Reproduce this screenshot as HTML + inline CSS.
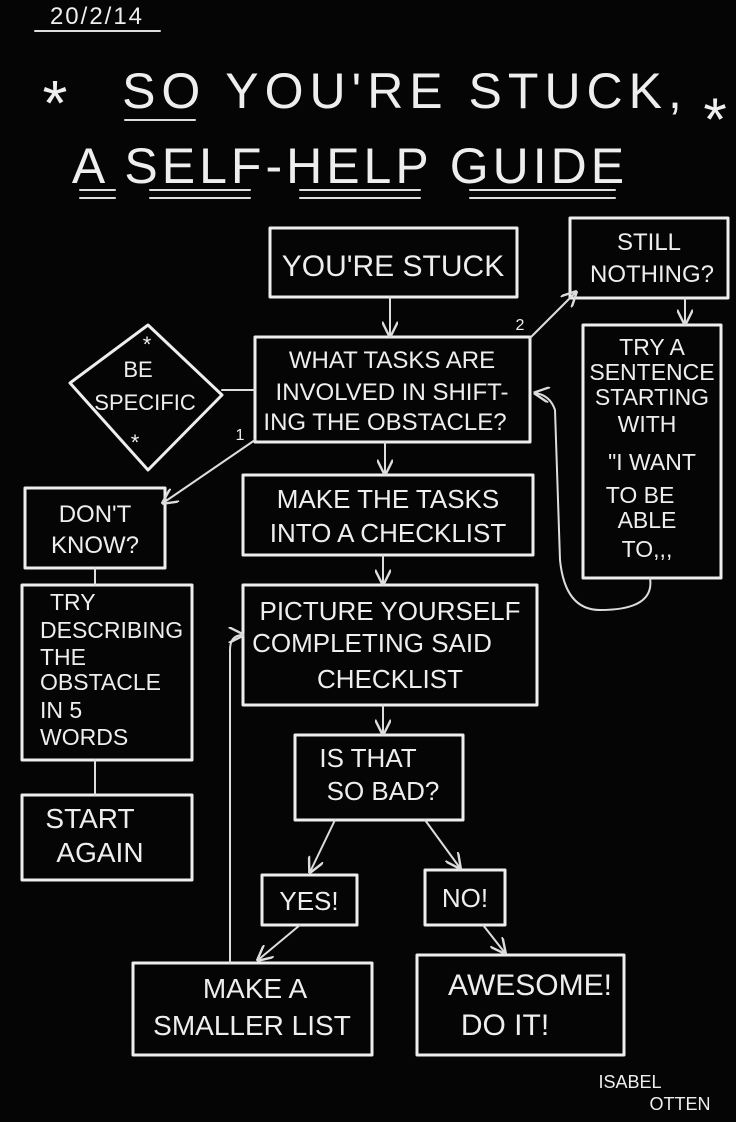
<!DOCTYPE html>
<html><head><meta charset="utf-8"><style>
html,body{margin:0;padding:0;background:#050505;}
svg{display:block}
text{font-family:"Liberation Sans Narrow","Liberation Sans",sans-serif;fill:#eee;text-anchor:middle}
.b{fill:none;stroke:#eee;stroke-width:3;stroke-linejoin:round;stroke-linecap:round}
.l{fill:none;stroke:#ddd;stroke-width:2;stroke-linecap:round}
</style></head><body>
<svg width="736" height="1122" viewBox="0 0 736 1122" xmlns="http://www.w3.org/2000/svg">
<rect width="736" height="1122" fill="#050505"/>
<defs><marker id="a" viewBox="0 0 10 10" refX="9" refY="5" markerWidth="8" markerHeight="8" orient="auto"><path d="M0,0 L10,5 L0,10" fill="none" stroke="#ddd" stroke-width="1.5"/></marker></defs>

<!-- header -->
<text x="97" y="24" font-size="24" style="letter-spacing:2px">20/2/14</text>
<line x1="35" y1="31" x2="160" y2="31" class="l"/>
<text x="55" y="125" font-size="64">*</text>
<text x="405" y="108" font-size="50" style="letter-spacing:6px">SO YOU'RE STUCK,</text>
<text x="715" y="140" font-size="60">*</text>
<text x="350" y="183" font-size="50" style="letter-spacing:4px">A SELF-HELP GUIDE</text>
<path class="l" d="M80 190 H115 M80 198 H115 M150 190 H250 M150 198 H250 M300 190 H420 M300 198 H420 M470 190 H615 M470 198 H615 M125 120 H195"/>

<!-- boxes -->
<rect class="b" x="270" y="228" width="247" height="69"/>
<text x="393" y="276" font-size="30">YOU'RE STUCK</text>

<rect class="b" x="570" y="218" width="158" height="80"/>
<text x="649" y="250" font-size="24">STILL</text>
<text x="652" y="282" font-size="24">NOTHING?</text>

<rect class="b" x="583" y="325" width="138" height="253"/>
<g font-size="23"><text x="652" y="355">TRY A</text><text x="652" y="380">SENTENCE</text><text x="652" y="405">STARTING</text><text x="647" y="432">WITH</text><text x="652" y="470">"I WANT</text><text x="640" y="503">TO BE</text><text x="647" y="528">ABLE</text><text x="647" y="557">TO,,,</text></g>

<rect class="b" x="255" y="337" width="275" height="105"/>
<g font-size="24"><text x="392" y="368">WHAT TASKS ARE</text><text x="392" y="400">INVOLVED IN SHIFT-</text><text x="385" y="430">ING THE OBSTACLE?</text></g>

<path class="b" d="M70 383 L148 325 L222 395 L148 470 Z"/>
<g font-size="22"><text x="147" y="352">*</text><text x="138" y="377">BE</text><text x="145" y="410">SPECIFIC</text><text x="135" y="450">*</text></g>

<rect class="b" x="25" y="488" width="140" height="80"/>
<text x="95" y="522" font-size="24">DON'T</text><text x="95" y="553" font-size="24">KNOW?</text>

<rect class="b" x="243" y="475" width="290" height="80"/>
<text x="388" y="508" font-size="26">MAKE THE TASKS</text><text x="388" y="542" font-size="26">INTO A CHECKLIST</text>

<rect class="b" x="243" y="585" width="294" height="120"/>
<g font-size="26"><text x="390" y="620">PICTURE YOURSELF</text><text x="372" y="652">COMPLETING SAID</text><text x="390" y="688">CHECKLIST</text></g>

<rect class="b" x="22" y="585" width="170" height="175"/>
<g font-size="23"><text x="50" y="610" style="text-anchor:start">TRY</text><text x="40" y="638" style="text-anchor:start">DESCRIBING</text><text x="40" y="665" style="text-anchor:start">THE</text><text x="40" y="690" style="text-anchor:start">OBSTACLE</text><text x="40" y="718" style="text-anchor:start">IN 5</text><text x="40" y="745" style="text-anchor:start">WORDS</text></g>

<rect class="b" x="22" y="795" width="170" height="85"/>
<text x="90" y="828" font-size="28">START</text><text x="100" y="862" font-size="28">AGAIN</text>

<rect class="b" x="295" y="735" width="168" height="85"/>
<text x="368" y="767" font-size="26">IS THAT</text><text x="383" y="800" font-size="26">SO BAD?</text>

<rect class="b" x="262" y="875" width="95" height="50"/>
<text x="309" y="910" font-size="26">YES!</text>
<rect class="b" x="425" y="870" width="80" height="55"/>
<text x="465" y="907" font-size="26">NO!</text>

<rect class="b" x="133" y="963" width="239" height="92"/>
<text x="255" y="998" font-size="28">MAKE A</text><text x="252" y="1035" font-size="28">SMALLER LIST</text>

<rect class="b" x="417" y="955" width="207" height="100"/>
<text x="530" y="995" font-size="30">AWESOME!</text><text x="505" y="1035" font-size="30">DO IT!</text>

<text x="630" y="1088" font-size="18">ISABEL</text><text x="680" y="1110" font-size="18">OTTEN</text>

<!-- connectors -->
<g class="l" marker-end="url(#a)">
<path d="M390 297 V336"/>
<path d="M385 442 V474"/>
<path d="M383 555 V584"/>
<path d="M383 705 V734"/>
<path d="M335 820 L310 872"/>
<path d="M425 820 L460 868"/>
<path d="M300 925 L258 960"/>
<path d="M483 925 L505 953"/>
<path d="M530 338 L576 292"/>
<path d="M255 440 L163 503"/>
<path d="M230 963 V650 Q230 635 243 635"/>
<path d="M650 578 Q655 610 600 610 Q565 610 560 560 L555 410 Q550 395 535 393"/>
<path d="M685 298 V324"/>
</g>
<g class="l"><path d="M222 390 H255"/><path d="M95 568 V585"/><path d="M95 760 V795"/></g>
<text x="240" y="440" font-size="16">1</text>
<text x="520" y="330" font-size="16">2</text>
</svg>
</body></html>
